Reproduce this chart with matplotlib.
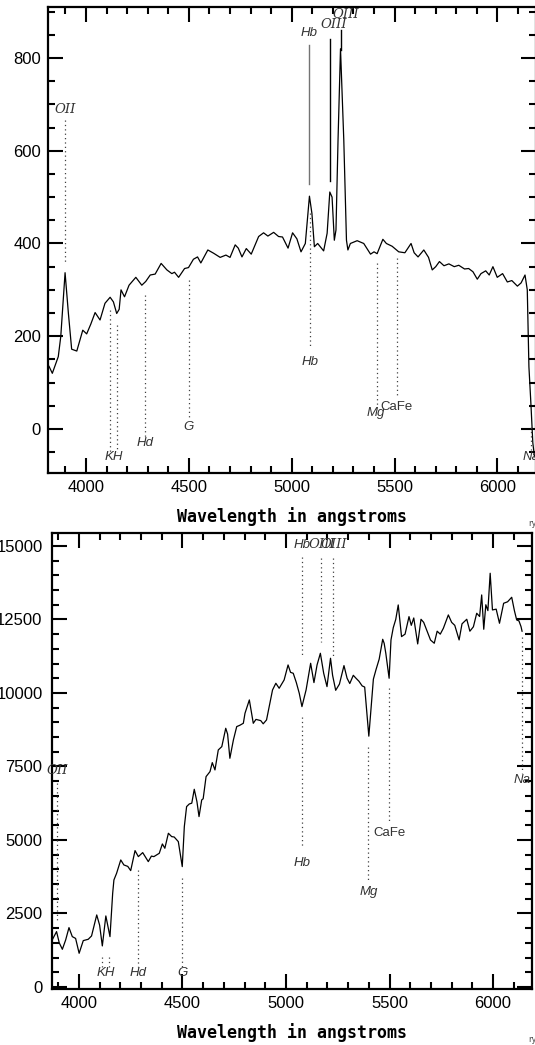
import numpy as np
import matplotlib
matplotlib.use('Agg')
import matplotlib.pyplot as plt
from matplotlib.ticker import MultipleLocator

# spectrum 1 (emission line galaxy)
wl_top = [3820, 3836, 3865, 3877, 3898, 3914, 3930, 3955, 3984, 4003, 4023, 4044, 4068, 4092,
          4117, 4133, 4149, 4161, 4170, 4187, 4209, 4242, 4271, 4290, 4312, 4336, 4365, 4393,
          4417, 4430, 4450, 4479, 4498, 4522, 4542, 4558, 4592, 4620, 4652, 4680, 4700, 4725,
          4740, 4758, 4779, 4803, 4839, 4863, 4884, 4912, 4936, 4955, 4982, 5004, 5025, 5045,
          5066, 5086, 5098, 5110, 5126, 5155, 5172, 5185, 5196, 5207, 5215, 5225, 5237, 5253,
          5266, 5273, 5285, 5318, 5350, 5383, 5400, 5415, 5443, 5460, 5488, 5520, 5550, 5580,
          5595, 5614, 5642, 5665, 5683, 5700, 5718, 5740, 5764, 5790, 5812, 5840, 5860, 5881,
          5902, 5920, 5943, 5960, 5978, 5999, 6025, 6048, 6070, 6097, 6115, 6134, 6145, 6153,
          6162, 6172, 6180]
flux_top = [135, 120, 156, 199, 337, 250, 172, 168, 213, 205, 226, 251, 235, 271,
            284, 274, 249, 258, 300, 285, 310, 327, 310, 318, 332, 334, 357, 343,
            335, 338, 327, 346, 348, 366, 371, 358, 386, 379, 370, 375, 370, 397,
            390, 371, 389, 377, 415, 423, 416, 424, 415, 414, 390, 423, 410, 382,
            400, 502, 465, 393, 400, 384, 422, 511, 500, 407, 429, 623, 820, 623,
            407, 386, 400, 406, 400, 377, 382, 378, 409, 400, 394, 382, 380, 400,
            380, 371, 386, 370, 343, 350, 361, 352, 356, 350, 353, 345, 346, 339,
            323, 335, 341, 332, 350, 327, 335, 317, 320, 308, 315, 332, 300, 134,
            60, -30, -60]

# spectrum 2 (absorption line galaxy)
wl_bot = [3873, 3892, 3905, 3920, 3936, 3952, 3968, 3984, 4001, 4021, 4045, 4061, 4086, 4100,
          4113, 4130, 4142, 4150, 4163, 4169, 4182, 4202, 4217, 4236, 4250, 4271, 4287, 4308,
          4335, 4350, 4362, 4388, 4403, 4415, 4432, 4448, 4460, 4480, 4499, 4509, 4520, 4533,
          4545, 4557, 4570, 4580, 4593, 4600, 4614, 4633, 4644, 4657, 4673, 4690, 4709, 4718,
          4729, 4746, 4762, 4777, 4794, 4802, 4823, 4842, 4855, 4878, 4890, 4906, 4919, 4935,
          4951, 4967, 4991, 5010, 5022, 5035, 5050, 5064, 5077, 5097, 5119, 5135, 5150, 5166,
          5182, 5198, 5215, 5225, 5240, 5258, 5280, 5295, 5308, 5325, 5338, 5352, 5368, 5380,
          5400, 5422, 5435, 5450, 5467, 5474, 5482, 5498, 5507, 5518, 5530, 5542, 5558, 5575,
          5594, 5605, 5617, 5636, 5652, 5665, 5679, 5698, 5716, 5730, 5745, 5760, 5784, 5800,
          5815, 5836, 5850, 5873, 5888, 5905, 5921, 5935, 5945, 5955, 5965, 5975, 5986, 5997,
          6015, 6031, 6051, 6070, 6090, 6103, 6114, 6125, 6135, 6140]
flux_bot = [1626, 1882, 1500, 1281, 1599, 2018, 1712, 1650, 1145, 1576, 1621, 1735, 2449, 2100,
            1395, 2415, 1995, 1711, 3186, 3639, 3867, 4320, 4150, 4100, 3957, 4637, 4433, 4569,
            4263, 4450, 4433, 4546, 4864, 4717, 5227, 5113, 5100, 4943, 4093, 5454, 6134, 6224,
            6250, 6723, 6300, 5794, 6361, 6400, 7154, 7324, 7630, 7381, 8061, 8174, 8798, 8600,
            7778, 8401, 8855, 8900, 8968, 9308, 9762, 8968, 9100, 9059, 8950, 9082, 9535, 10102,
            10329, 10159, 10442, 10952, 10700, 10669, 10350, 9989, 9535, 10102, 11009, 10352, 10952, 11349,
            10669, 10215, 11180, 10600, 10090, 10300, 10930, 10500, 10320, 10600, 10500, 10400, 10238, 10200,
            8530, 10470, 10800, 11150, 11825, 11690, 11349, 10499, 11803, 12220, 12500, 12993, 11916, 12000,
            12596, 12300, 12550, 11667, 12506, 12400, 12143, 11800, 11690, 12100, 12000, 12200, 12653, 12400,
            12300, 11803, 12350, 12506, 12100, 12250, 12710, 12600, 13333, 12166, 13000, 12800, 14071, 12823,
            12850, 12370, 13050, 13100, 13254, 12800, 12483, 12450, 12256, 12100]

# line identifications: label, wavelength, line top, line bottom, label y
top_names = ['OII', 'K', 'H', 'Hd', 'G', 'Hb', 'Mg', 'CaFe', 'Na']
top_wl = [3898, 4117, 4149, 4287, 4500, 5090, 5415, 5512, 6165]
top_y0 = [666, 256, 224, 289, 321, 465, 358, 368, 4]
top_y1 = [360, -50, -50, -19, 26, 177, 47, 69, -45]
top_lab = ['OII', '', 'KH', 'Hd', 'G', 'Hb', 'Mg', 'CaFe', 'Na']
top_lab_x = [3898, 4117, 4133, 4287, 4500, 5090, 5410, 5509, 6165]
top_lab_y = [690, 0, -60, -30, 4, 144, 34, 47, -60]

em_names = ['Hb', 'OIII', 'OIII']
em_wl = [5086, 5185, 5240]
em_y0 = [828, 840, 860]
em_y1 = [528, 534, 817]
em_lab_x = [5086, 5205, 5262]
em_lab_y = [853, 872, 893]

bot_wl = [3895, 4113, 4146, 4287, 4499, 5076, 5076, 5170, 5225, 5398, 5498, 6142]
bot_y0 = [6939, 1020, 1020, 3980, 3707, 14626, 9184, 14592, 14592, 8163, 10170, 11905]
bot_y1 = [2279, 680, 680, 680, 680, 11224, 4762, 11735, 11224, 3639, 5578, 7279]
bot_lab = ['OII', '', 'KH', 'Hd', 'G', 'Hb', 'Hb', 'OIII', 'OIII', 'Mg', 'CaFe', 'Na']
bot_lab_x = [3895, 4113, 4130, 4287, 4499, 5076, 5076, 5172, 5232, 5398, 5498, 6142]
bot_lab_y = [7347, 0, 476, 476, 476, 15034, 4218, 15034, 15034, 3231, 5238, 7041]

W, H = 535, 1045
fig = plt.figure(figsize=(W / 100, H / 100), dpi=100)
ax1 = fig.add_axes([48 / W, 1 - 473 / H, 487.5 / W, 466 / H])
ax2 = fig.add_axes([52 / W, 1 - 989 / H, 480 / W, 456 / H])

tickfont = 'Liberation Sans'


def style(ax, xlim, ylim, ymaj, ymin):
    ax.set_xlim(*xlim)
    ax.set_ylim(*ylim)
    ax.xaxis.set_major_locator(MultipleLocator(500))
    ax.xaxis.set_minor_locator(MultipleLocator(100))
    ax.yaxis.set_major_locator(MultipleLocator(ymaj))
    ax.yaxis.set_minor_locator(MultipleLocator(ymin))
    ax.tick_params(which='both', direction='in', top=True, right=True, width=1.5,
                   labelsize=12, pad=5)
    ax.tick_params(which='major', length=10.5)
    ax.tick_params(which='minor', length=5)
    for s in ax.spines.values():
        s.set_linewidth(1.6)
    for lab in ax.get_xticklabels() + ax.get_yticklabels():
        lab.set_fontfamily(tickfont)
    ax.set_xlabel('Wavelength in angstroms', family='DejaVu Sans Mono', fontsize=12,
                  fontweight='bold', labelpad=9)


style(ax1, (3815, 6185), (-95, 910), 200, 50)
style(ax2, (3870, 6188), (-70, 15440), 2500, 500)
ax2.yaxis.set_major_formatter(matplotlib.ticker.FuncFormatter(lambda v, p: '%d' % v))
ax2.tick_params(axis='y', pad=6.8)

ax1.plot(wl_top, flux_top, color='black', lw=0.9, clip_on=False)
ax2.plot(wl_bot, flux_bot, color='black', lw=0.9)

labkw = dict(fontsize=9.5, color='0.2', ha='center', va='center', clip_on=False)

for w, a, b in zip(top_wl, top_y0, top_y1):
    ax1.plot([w, w], [a, b], color='0.25', lw=0.9, ls=(0, (1, 2.5)), clip_on=False)
for t, x, y in zip(top_lab, top_lab_x, top_lab_y):
    if not t:
        continue
    fam = 'DejaVu Serif' if t.startswith('O') else 'Liberation Sans'
    st = 'normal' if t == 'CaFe' else 'italic'
    ax1.text(x, y, t, family=fam, style=st, **labkw)

for i, (w, a, b) in enumerate(zip(em_wl, em_y0, em_y1)):
    ax1.plot([w, w], [a, b], color='0.45' if i == 0 else 'black', lw=1.0)
for t, x, y in zip(em_names, em_lab_x, em_lab_y):
    fam = 'DejaVu Serif' if t.startswith('O') else 'Liberation Sans'
    ax1.text(x, y, t, family=fam, style='italic', **labkw)

for w, a, b in zip(bot_wl, bot_y0, bot_y1):
    ax2.plot([w, w], [a, b], color='0.25', lw=0.9, ls=(0, (1, 2.5)), clip_on=False)
for t, x, y in zip(bot_lab, bot_lab_x, bot_lab_y):
    if not t:
        continue
    fam = 'DejaVu Serif' if t.startswith('O') else 'Liberation Sans'
    st = 'normal' if t == 'CaFe' else 'italic'
    ax2.text(x, y, t, family=fam, style=st, **labkw)

fig.text(528 / W, 1 - 523 / H, 'ry', fontsize=6, color='0.3', va='center')
fig.text(528 / W, 1 - 1040 / H, 'ry', fontsize=6, color='0.3', va='center')

fig.savefig('out.png', dpi=100)
